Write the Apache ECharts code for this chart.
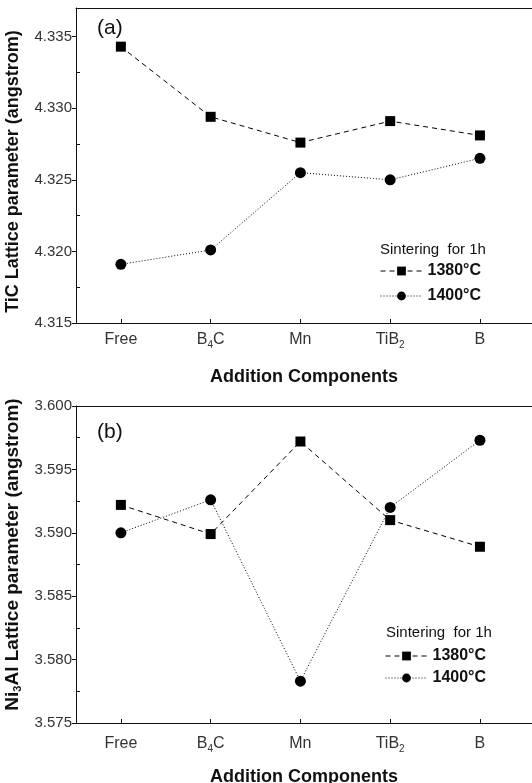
<!DOCTYPE html>
<html>
<head>
<meta charset="utf-8">
<script src="https://cdn.jsdelivr.net/npm/echarts@6/dist/echarts.min.js"></script>
<style>
  html, body { margin: 0; padding: 0; background: #fff; }
  #chart { width: 532px; height: 783px; }
</style>
</head>
<body>
<div id="chart"></div>
<script>
// categories along x (digits get rendered as subscripts)
const categories = ['Free', 'B4C', 'Mn', 'TiB2', 'B']
const catPos = [1, 2, 3, 4, 5]

// (a) TiC lattice parameter
const tic1380 = [4.3343, 4.3294, 4.3276, 4.3291, 4.3281]
const tic1400 = [4.3191, 4.3201, 4.3255, 4.3250, 4.3265]
// (b) Ni3Al lattice parameter
const ni3al1380 = [3.5922, 3.5899, 3.5972, 3.5910, 3.5889]
const ni3al1400 = [3.5900, 3.5926, 3.5783, 3.5920, 3.5973]

const seriesNames = ['1380°C', '1400°C']

const font = 'Liberation Sans, Arial, Helvetica, sans-serif'
const ink = '#111'

function pairs(vals) {
  return catPos.map((x, i) => [x, vals[i]])
}

function catLabel(v) {
  const name = categories[Math.round(v) - 1] || ''
  return name.replace(/(\d)/g, '{sub|$1}')
}

function xAxisFor(gridIndex, labelMargin, nameGap) {
  return [{
    type: 'value',
    gridIndex,
    position: 'bottom',
    min: 0.5,
    max: 5.58,
    axisLine: { lineStyle: { color: ink, width: 1 } },
    axisTick: { inside: true, length: 4, customValues: catPos, lineStyle: { color: ink } },
    axisLabel: {
      customValues: catPos,
      formatter: catLabel,
      margin: labelMargin,
      color: '#333',
      fontFamily: font,
      fontSize: 16,
      lineHeight: 20,
      rich: { sub: { fontSize: 10, lineHeight: 10, verticalAlign: 'bottom', color: '#333', fontFamily: font } }
    },
    splitLine: { show: false },
    name: 'Addition Components',
    nameLocation: 'middle',
    nameGap,
    nameTextStyle: { fontFamily: font, fontSize: 18, fontWeight: 'bold', color: ink }
  }, {
    // top frame line
    type: 'value',
    gridIndex,
    position: 'top',
    min: 0.5,
    max: 5.58,
    axisLine: { lineStyle: { color: ink, width: 1 } },
    axisTick: { show: false },
    axisLabel: { show: false },
    splitLine: { show: false }
  }]
}

function yAxisFor(gridIndex, min, max, name, nameSize, namePad) {
  return [{
    type: 'value',
    gridIndex,
    min,
    max,
    interval: 0.005,
    axisLine: { show: true, lineStyle: { color: ink, width: 1 } },
    axisTick: { show: true, length: 4, lineStyle: { color: ink } },
    axisLabel: {
      formatter: v => v.toFixed(3),
      showMaxLabel: max === 3.6,
      margin: 4,
      color: '#333',
      fontFamily: font,
      fontSize: 15
    },
    splitLine: { show: false },
    name,
    nameLocation: 'middle',
    nameGap: 50,
    nameTextStyle: {
      fontFamily: font, fontSize: nameSize, fontWeight: 'bold', color: ink, lineHeight: 22,
      padding: namePad,
      rich: { sub: { fontSize: 11, lineHeight: 11, verticalAlign: 'bottom', fontWeight: 'bold', color: ink, fontFamily: font } }
    }
  }, {
    // inward minor ticks
    type: 'value',
    gridIndex,
    position: 'left',
    min,
    max,
    interval: 0.005,
    axisLine: { show: false },
    axisTick: { show: false, inside: true },
    minorTick: { show: true, splitNumber: 2, length: 4, lineStyle: { color: ink } },
    axisLabel: { show: false },
    splitLine: { show: false }
  }]
}

function lineSeries(name, data, xi, yi, dashed) {
  return {
    name,
    type: 'line',
    xAxisIndex: xi,
    yAxisIndex: yi,
    data,
    symbol: dashed ? 'rect' : 'circle',
    symbolSize: dashed ? 10 : 11,
    itemStyle: { color: '#000' },
    lineStyle: { color: '#000', width: 1, type: dashed ? [5, 4] : [1, 2] },
    z: 3
  }
}

const titleStyle = { fontFamily: font, fontSize: 21, fontWeight: 'normal', color: ink }
const noteStyle = { fontFamily: font, fontSize: 15, fontWeight: 'normal', color: ink }
const legendText = { fontFamily: font, fontSize: 16, fontWeight: 'bold', color: ink }

const chart = echarts.init(document.getElementById('chart'), null, { renderer: 'canvas' })

chart.setOption({
  animation: false,
  backgroundColor: '#fff',
  title: [
    { text: '(a)', left: 97, top: 18, padding: 0, textStyle: titleStyle },
    { text: '(b)', left: 97, top: 422, padding: 0, textStyle: titleStyle },
    { text: 'Sintering  for 1h', left: 380, top: 242, padding: 0, textStyle: noteStyle },
    { text: 'Sintering  for 1h', left: 386, top: 625, padding: 0, textStyle: noteStyle }
  ],
  legend: [
    {
      data: seriesNames,
      orient: 'vertical',
      left: 380,
      top: 263,
      padding: 0,
      itemWidth: 42,
      itemHeight: 11,
      itemGap: 9,
      lineStyle: { width: 1 },
      textStyle: legendText
    },
    {
      data: seriesNames,
      orient: 'vertical',
      left: 385,
      top: 648,
      padding: 0,
      itemWidth: 42,
      itemHeight: 11,
      itemGap: 6,
      lineStyle: { width: 1 },
      textStyle: legendText
    }
  ],
  grid: [
    { left: 76, right: 0, top: 8, height: 315, outerBoundsMode: 'none' },
    { left: 76, right: 0, top: 406, height: 317, outerBoundsMode: 'none' }
  ],
  xAxis: [...xAxisFor(0, 7, 45), ...xAxisFor(1, 11, 45)],
  yAxis: [
    ...yAxisFor(0, 4.315, 4.337, 'TiC Lattice parameter (angstrom)', 18, [0, 12, 0, 0]),
    ...yAxisFor(1, 3.575, 3.6, 'Ni{sub|3}Al Lattice parameter (angstrom)', 19, [0, 0, 0, 20])
  ],
  series: [
    lineSeries(seriesNames[0], pairs(tic1380), 0, 0, true),
    lineSeries(seriesNames[1], pairs(tic1400), 0, 0, false),
    lineSeries(seriesNames[0], pairs(ni3al1380), 2, 2, true),
    lineSeries(seriesNames[1], pairs(ni3al1400), 2, 2, false)
  ]
})
</script>
</body>
</html>
